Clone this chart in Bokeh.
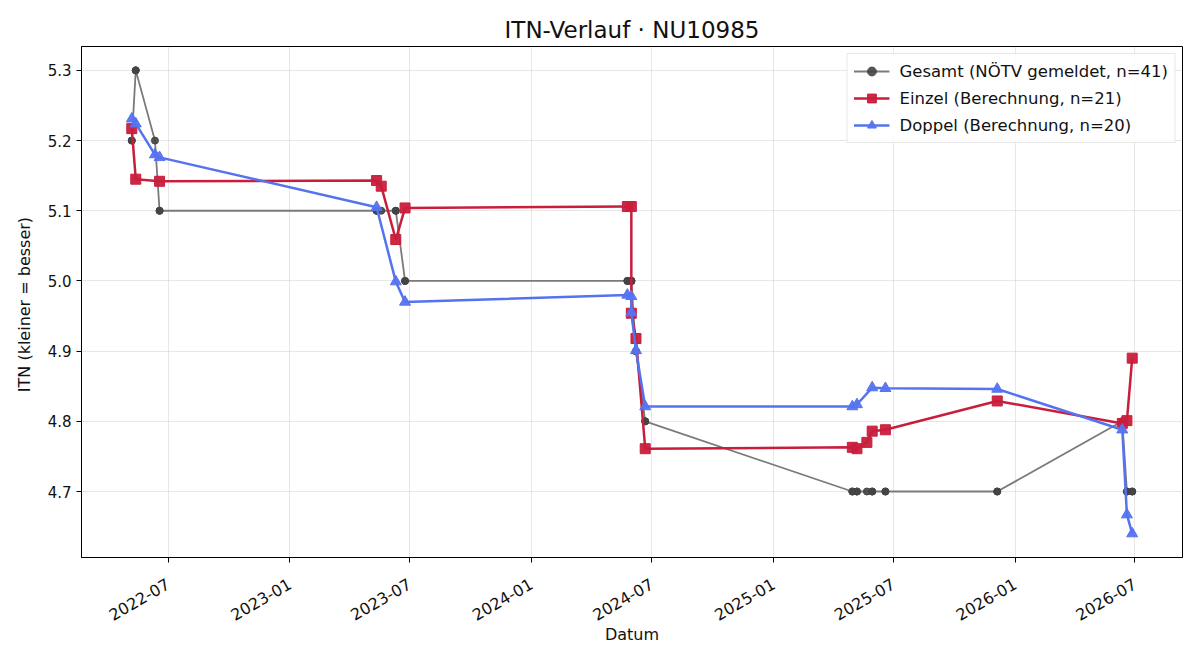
from math import pi

import pandas as pd
from bokeh.embed import file_html
from bokeh.models import (ColumnDataSource, DatetimeTickFormatter, FixedTicker,
                          NumeralTickFormatter, Range1d)
from bokeh.plotting import figure
from bokeh.resources import INLINE

# --- data -------------------------------------------------------------------
gesamt_dates = [
    "2022-05-07", "2022-05-07", "2022-05-13", "2022-05-13", "2022-06-11",
    "2022-06-18", "2022-06-18", "2023-05-12", "2023-05-12", "2023-05-19",
    "2023-06-10", "2023-06-10", "2023-06-24", "2023-06-24", "2024-05-25",
    "2024-05-25", "2024-05-31", "2024-05-31", "2024-05-31", "2024-05-31",
    "2024-06-07", "2024-06-07", "2024-06-21", "2024-06-21", "2025-04-30",
    "2025-04-30", "2025-05-07", "2025-05-07", "2025-05-22", "2025-05-30",
    "2025-05-30", "2025-06-19", "2025-06-19", "2025-12-05", "2025-12-05",
    "2026-06-12", "2026-06-12", "2026-06-19", "2026-06-19", "2026-06-27",
    "2026-06-27",
]
gesamt_itn = [
    5.2, 5.2, 5.3, 5.3, 5.2,
    5.1, 5.1, 5.1, 5.1, 5.1,
    5.1, 5.1, 5.0, 5.0, 5.0,
    5.0, 5.0, 5.0, 5.0, 5.0,
    4.9, 4.9, 4.8, 4.8, 4.7,
    4.7, 4.7, 4.7, 4.7, 4.7,
    4.7, 4.7, 4.7, 4.7, 4.7,
    4.8, 4.8, 4.7, 4.7, 4.7,
    4.7,
]

einzel_dates = [
    "2022-05-07", "2022-05-13", "2022-06-18", "2023-05-12", "2023-05-19",
    "2023-06-10", "2023-06-24", "2024-05-25", "2024-05-31", "2024-05-31",
    "2024-06-07", "2024-06-21", "2025-04-30", "2025-05-07", "2025-05-22",
    "2025-05-30", "2025-06-19", "2025-12-05", "2026-06-12", "2026-06-19",
    "2026-06-27",
]
einzel_itn = [
    5.217, 5.145, 5.142, 5.143, 5.135,
    5.059, 5.104, 5.106, 5.106, 4.954,
    4.918, 4.761, 4.763, 4.761, 4.770,
    4.786, 4.788, 4.829, 4.797, 4.801,
    4.890,
]

doppel_dates = [
    "2022-05-07", "2022-05-13", "2022-06-11", "2022-06-18", "2023-05-12",
    "2023-06-10", "2023-06-24", "2024-05-25", "2024-05-31", "2024-05-31",
    "2024-06-07", "2024-06-21", "2025-04-30", "2025-05-07", "2025-05-30",
    "2025-06-19", "2025-12-05", "2026-06-12", "2026-06-19", "2026-06-27",
]
doppel_itn = [
    5.231, 5.224, 5.180, 5.176, 5.105,
    4.999, 4.970, 4.980, 4.978, 4.955,
    4.901, 4.821, 4.821, 4.824, 4.848,
    4.847, 4.846, 4.788, 4.667, 4.640,
]

x_ticks = ["2022-07-01", "2023-01-01", "2023-07-01", "2024-01-01", "2024-07-01",
           "2025-01-01", "2025-07-01", "2026-01-01", "2026-07-01"]
y_ticks = [4.7, 4.8, 4.9, 5.0, 5.1, 5.2, 5.3]

FONT = "DejaVu Sans"


def ms(d):
    return pd.Timestamp(d).value / 1e6


src_g = ColumnDataSource(dict(x=pd.to_datetime(gesamt_dates), y=gesamt_itn))
src_e = ColumnDataSource(dict(x=pd.to_datetime(einzel_dates), y=einzel_itn))
src_d = ColumnDataSource(dict(x=pd.to_datetime(doppel_dates), y=doppel_itn))

# --- figure -----------------------------------------------------------------
p = figure(
    width=1200, height=660,
    x_axis_type="datetime",
    x_range=Range1d(ms("2022-02-20"), ms("2026-09-11")),
    y_range=Range1d(4.606, 5.334),
    output_backend="svg", toolbar_location=None,
    min_border_left=81, min_border_right=18,
    min_border_top=46, min_border_bottom=103,
    background_fill_color="white", border_fill_color="white",
)

p.title.text = "ITN-Verlauf · NU10985"
p.title.align = "center"
p.title.text_font = FONT
p.title.text_font_size = "23px"
p.title.text_font_style = "normal"
p.title.text_color = "#111111"
p.title.standoff = 8

p.outline_line_color = "black"
p.outline_line_width = 1

for ax in (p.xaxis, p.yaxis):
    ax.axis_line_color = "black"
    ax.major_tick_line_color = "black"
    ax.major_tick_in = 0
    ax.major_tick_out = 5
    ax.minor_tick_line_color = None
    ax.major_label_text_font = FONT
    ax.major_label_text_font_size = "15px"
    ax.major_label_text_color = "#111111"
    ax.axis_label_text_font = FONT
    ax.axis_label_text_font_size = "16px"
    ax.axis_label_text_font_style = "normal"
    ax.axis_label_text_color = "#111111"

p.xaxis.ticker = FixedTicker(ticks=[ms(t) for t in x_ticks])
p.xaxis.formatter = DatetimeTickFormatter(
    days="%Y-%m", months="%Y-%m", years="%Y-%m", hours="%Y-%m")
p.xaxis.major_label_orientation = pi / 6
p.xaxis.major_label_text_font_size = "16px"
p.xaxis.major_label_standoff = 20
p.xaxis.axis_label = "Datum"
p.xaxis.axis_label_standoff = -4

p.yaxis.ticker = FixedTicker(ticks=y_ticks)
p.yaxis.formatter = NumeralTickFormatter(format="0.0")
p.yaxis.axis_label = "ITN  (kleiner = besser)"
p.yaxis.axis_label_standoff = 11

p.grid.grid_line_color = "#b0b0b0"
p.grid.grid_line_alpha = 0.3
p.grid.grid_line_width = 1

# Gesamt (reported ITN)
p.line("x", "y", source=src_g, line_color="#7a7a7a", line_width=1.8,
       legend_label="Gesamt (NÖTV gemeldet, n=41)")
p.scatter("x", "y", source=src_g, marker="circle", size=7,
          fill_color="#444444", line_color="#444444", fill_alpha=0.9,
          legend_label="Gesamt (NÖTV gemeldet, n=41)")

# Einzel (calculated singles rating)
p.line("x", "y", source=src_e, line_color="#c81e3c", line_width=2.5,
       legend_label="Einzel (Berechnung, n=21)")
p.scatter("x", "y", source=src_e, marker="square", size=10,
          fill_color="#c81e3c", line_color="#c81e3c", fill_alpha=0.95,
          legend_label="Einzel (Berechnung, n=21)")

# Doppel (calculated doubles rating)
p.line("x", "y", source=src_d, line_color="#5673ef", line_width=2.5,
       legend_label="Doppel (Berechnung, n=20)")
p.scatter("x", "y", source=src_d, marker="triangle", size=11,
          fill_color="#5673ef", line_color="#5673ef", fill_alpha=0.95,
          legend_label="Doppel (Berechnung, n=20)")

lg = p.legend[0]
lg.location = "top_right"
lg.label_text_font = FONT
lg.label_text_font_size = "16.5px"
lg.label_text_color = "#111111"
lg.border_line_color = "#d0d0d0"
lg.border_line_width = 1
lg.background_fill_alpha = 0.85
lg.glyph_width = 36
lg.glyph_height = 22
lg.spacing = 5
lg.padding = 6
lg.margin = 7
lg.label_standoff = 10
lg.label_height = 22

open("out.html", "w").write(file_html(p, INLINE))
